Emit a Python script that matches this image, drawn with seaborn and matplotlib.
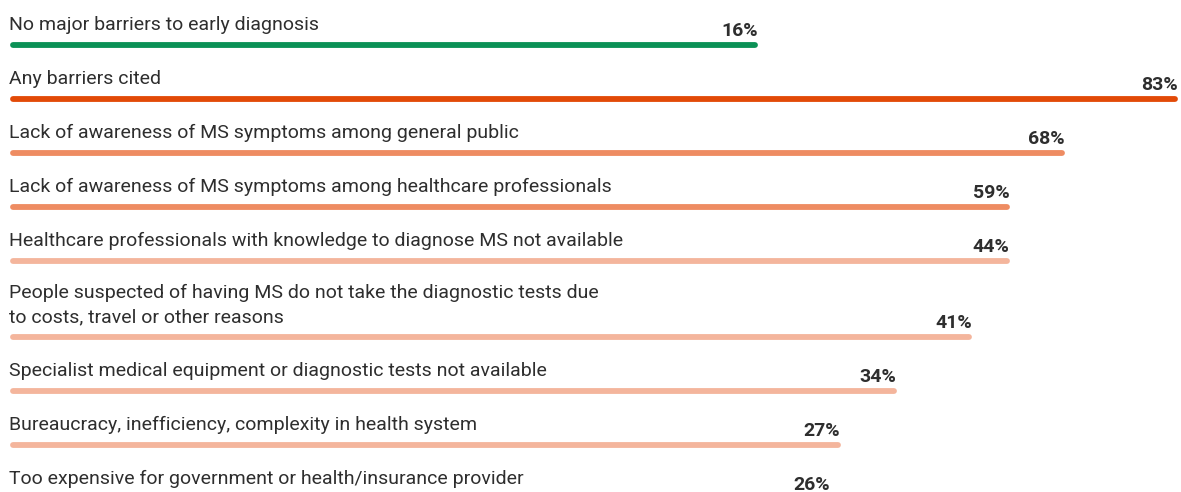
import numpy as np
import pandas as pd
import seaborn as sns
import matplotlib.pyplot as plt

categories = [
    "No major barriers to early diagnosis",
    "Any barriers cited",
    "Lack of awareness of MS symptoms among general public",
    "Lack of awareness of MS symptoms among healthcare professionals",
    "Healthcare professionals with knowledge to diagnose MS not available",
    "People suspected of having MS do not take the diagnostic tests due\nto costs, travel or other reasons",
    "Specialist medical equipment or diagnostic tests not available",
    "Bureaucracy, inefficiency, complexity in health system",
    "Too expensive for government or health/insurance provider",
]
pct = [16, 83, 68, 59, 44, 41, 34, 27, 26]
# bar lengths as drawn in the source graphic (not proportional to the printed %)
bar_length = [53.0, 83.0, 74.9, 71.0, 71.0, 68.3, 62.9, 58.9, 58.2]
bar_colors = ["#0b9156", "#e24a07", "#ee8c62", "#ee8c62", "#f4b59c",
              "#f4b59c", "#f4b59c", "#f4b59c", "#f4b59c"]

sns.set_theme(style="white")
plt.rcParams['font.family'] = ['Roboto', 'DejaVu Sans']

W, H = 1181, 492
fig = plt.figure(figsize=(W / 100, H / 100), dpi=100)
ax = fig.add_axes([0, 0, 1, 1])

# layout: vertical positions in pixels from top, extra gap before the two-line label
step, extra = 54, 22
ypos = []
y = 45
for i, c in enumerate(categories):
    ypos.append(y)
    y += step + (extra if i + 1 < len(categories) and "\n" in categories[i + 1] else 0)

df = pd.DataFrame({
    "x": np.concatenate([np.zeros(len(pct)), bar_length]),
    "y": ypos + ypos,
    "row": list(range(len(pct))) * 2,
})

sns.lineplot(data=df, x="x", y="y", hue="row", palette=bar_colors,
             linewidth=4.2, solid_capstyle="round", sort=False,
             legend=False, estimator=None, ax=ax)

k = 14.01  # px per unit
x0 = 12.5
ax.set_xlim(-x0 / k, (W - x0) / k)
ax.set_ylim(H, 0)
ax.axis("off")

for cat, v, L, yy in zip(categories, pct, bar_length, ypos):
    ax.text(-x0 / k + 9 / k, yy - 11, cat, ha="left", va="bottom",
            fontsize=14, color="#2e2e2e", linespacing=1.42)
    ax.text(L + 2.5 / k, yy - 9, f"{v}%", ha="right", va="baseline",
            fontsize=14, fontweight="bold", color="#2e2e2e")

fig.savefig("out.png", dpi=100)
